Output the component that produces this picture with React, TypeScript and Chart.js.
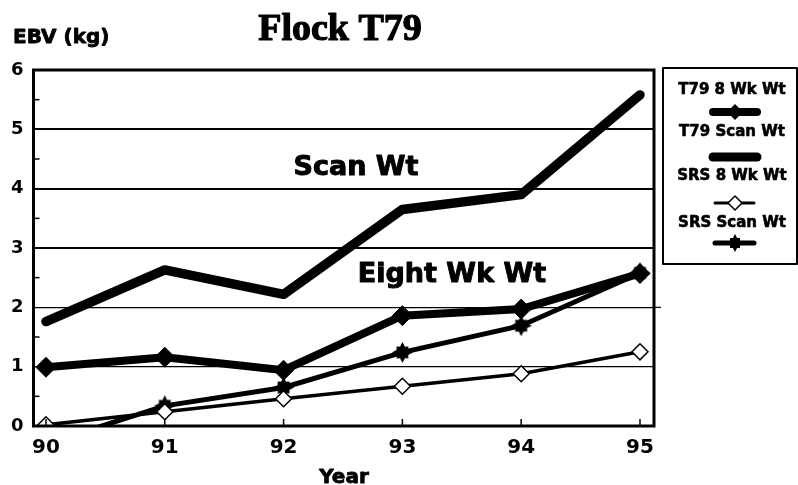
import React, { useEffect, useRef } from "react";
import { Chart, registerables } from "chart.js";

Chart.register(...registerables);

const years = [90, 91, 92, 93, 94, 95];
const t79EightWk = [0.99, 1.16, 0.94, 1.86, 1.97, 2.57];
const t79ScanWt = [1.76, 2.63, 2.22, 3.65, 3.9, 5.58];
const srsEightWk = [0.02, 0.24, 0.46, 0.67, 0.88, 1.25];
const srsScanWt = [-0.3, 0.34, 0.65, 1.24, 1.69, 2.58];
const yTicks = [0, 1, 2, 3, 4, 5, 6];
const yMinorTicks = [0.5, 1.5, 2.5, 3.5, 4.5, 5.5];
const legendLabels = ["T79 8 Wk Wt", "T79 Scan Wt", "SRS 8 Wk Wt", "SRS Scan Wt"];

const SANS = "'DejaVu Sans', sans-serif";

function makeStar(size: number): HTMLCanvasElement {
  const c = document.createElement("canvas");
  c.width = size;
  c.height = size;
  const g = c.getContext("2d")!;
  const cx = size / 2;
  const cy = size / 2;
  g.fillStyle = "#000";
  g.beginPath();
  const pts = 8;
  for (let i = 0; i < pts * 2; i++) {
    const ang = (Math.PI * i) / pts - Math.PI / 2;
    let r: number;
    if (i % 2 === 1) r = size * 0.3;
    else r = (i / 2) % 2 === 0 ? size * 0.5 : size * 0.4;
    const x = cx + Math.cos(ang) * r;
    const y = cy + Math.sin(ang) * r;
    if (i === 0) g.moveTo(x, y);
    else g.lineTo(x, y);
  }
  g.closePath();
  g.fill();
  return c;
}

function boldText(ctx: CanvasRenderingContext2D, t: string, x: number, y: number, w: number) {
  ctx.fillText(t, x, y);
  ctx.lineWidth = w;
  ctx.lineJoin = "round";
  ctx.strokeText(t, x, y);
}

export default function App() {
  const ref = useRef<HTMLCanvasElement>(null);

  useEffect(() => {
    if (!ref.current) return;
    const star = makeStar(21);
    const starSmall = makeStar(18);

    const decor = {
      id: "decor",
      afterDraw(chart: any) {
        const ctx = chart.ctx;
        const a = chart.chartArea;
        const ys = chart.scales.y;
        const xs = chart.scales.x;
        ctx.save();
        ctx.strokeStyle = "#000";
        ctx.fillStyle = "#000";
        // minor inward ticks on y
        ctx.lineWidth = 1.5;
        yMinorTicks.forEach((v) => {
          const py = ys.getPixelForValue(v);
          ctx.beginPath();
          ctx.moveTo(a.left, py);
          ctx.lineTo(a.left + 6, py);
          ctx.stroke();
        });
        // inward x ticks
        years.forEach((v) => {
          const px = xs.getPixelForValue(v);
          ctx.beginPath();
          ctx.moveTo(px, a.bottom);
          ctx.lineTo(px, a.bottom - 7);
          ctx.stroke();
        });
        // gridline 2 overshoot
        ctx.lineWidth = 1.2;
        const p2 = ys.getPixelForValue(2);
        ctx.beginPath();
        ctx.moveTo(a.right, p2);
        ctx.lineTo(a.right + 7, p2);
        ctx.stroke();
        // frame
        ctx.lineWidth = 3;
        ctx.strokeRect(a.left, a.top, a.right - a.left, a.bottom - a.top);

        // title
        ctx.textBaseline = "alphabetic";
        ctx.textAlign = "center";
        ctx.font = "bold 38px 'Liberation Serif', serif";
        boldText(ctx, "Flock T79", 340, 40, 1.2);
        // y axis title
        ctx.textAlign = "left";
        ctx.font = `bold 20px ${SANS}`;
        boldText(ctx, "EBV (kg)", 13, 43, 0.8);
        // x axis title
        ctx.textAlign = "center";
        ctx.font = `bold 20px ${SANS}`;
        boldText(ctx, "Year", 344, 483, 0.8);
        // annotations
        ctx.font = `bold 27px ${SANS}`;
        boldText(ctx, "Scan Wt", 356, 175, 1);
        boldText(ctx, "Eight Wk Wt", 452, 282, 1);

        // legend
        const lx = 663, ly = 68, lw = 134, lh = 196;
        ctx.fillStyle = "#fff";
        ctx.fillRect(lx, ly, lw, lh);
        ctx.fillStyle = "#000";
        ctx.lineWidth = 2;
        ctx.strokeRect(lx, ly, lw, lh);
        ctx.font = `bold 15px ${SANS}`;
        const tb = [94, 136, 180, 227];
        const sy = [112, 157, 203, 243];
        const sx0 = 713, sx1 = 757, scx = 735;
        legendLabels.forEach((t, i) => boldText(ctx, t, 732, tb[i], 0.6));
        ctx.lineCap = "round";
        // 1
        ctx.lineWidth = 8;
        ctx.beginPath(); ctx.moveTo(sx0, sy[0]); ctx.lineTo(sx1, sy[0]); ctx.stroke();
        ctx.beginPath();
        ctx.moveTo(scx - 8, sy[0]); ctx.lineTo(scx, sy[0] - 8); ctx.lineTo(scx + 8, sy[0]); ctx.lineTo(scx, sy[0] + 8);
        ctx.closePath(); ctx.fill();
        // 2
        ctx.lineWidth = 9;
        ctx.beginPath(); ctx.moveTo(sx0, sy[1]); ctx.lineTo(sx1, sy[1]); ctx.stroke();
        // 3
        ctx.lineWidth = 3;
        ctx.beginPath(); ctx.moveTo(sx0 + 2, sy[2]); ctx.lineTo(sx1 - 3, sy[2]); ctx.stroke();
        ctx.fillStyle = "#fff";
        ctx.lineWidth = 1.5;
        ctx.beginPath();
        ctx.moveTo(scx - 7, sy[2]); ctx.lineTo(scx, sy[2] - 7); ctx.lineTo(scx + 7, sy[2]); ctx.lineTo(scx, sy[2] + 7);
        ctx.closePath(); ctx.fill(); ctx.stroke();
        ctx.fillStyle = "#000";
        // 4
        ctx.lineWidth = 5;
        ctx.beginPath(); ctx.moveTo(sx0 + 2, sy[3]); ctx.lineTo(sx1 - 3, sy[3]); ctx.stroke();
        ctx.drawImage(starSmall, scx - 9, sy[3] - 9);
        ctx.restore();
      },
    };

    const mk = (data: number[]) => data.map((v, i) => ({ x: years[i], y: v }));

    const chart = new Chart(ref.current, {
      type: "line",
      data: {
        datasets: [
          {
            label: legendLabels[2],
            data: mk(srsEightWk),
            borderColor: "#000",
            borderWidth: 3.5,
            pointStyle: "rectRot",
            pointRadius: 8,
            pointBackgroundColor: "#fff",
            pointBorderColor: "#000",
            pointBorderWidth: 1.5,
            clip: 0,
            tension: 0,
          },
          {
            label: legendLabels[3],
            data: mk(srsScanWt),
            borderColor: "#000",
            borderWidth: 5,
            pointStyle: star as any,
            pointRadius: 10,
            clip: 0,
            tension: 0,
          },
          {
            label: legendLabels[0],
            data: mk(t79EightWk),
            borderColor: "#000",
            borderWidth: 8,
            pointStyle: "rectRot",
            pointRadius: 10,
            pointBackgroundColor: "#000",
            pointBorderColor: "#000",
            pointBorderWidth: 1,
            clip: 0,
            tension: 0,
          },
          {
            label: legendLabels[1],
            data: mk(t79ScanWt),
            borderColor: "#000",
            borderWidth: 9.5,
            borderCapStyle: "round",
            borderJoinStyle: "round",
            pointRadius: 0,
            clip: 0,
            tension: 0,
          },
        ],
      },
      options: {
        responsive: false,
        animation: false,
        layout: { padding: { left: 0, top: 70, right: 798 - 654, bottom: 0 } },
        plugins: { legend: { display: false }, tooltip: { enabled: false }, title: { display: false } },
        scales: {
          x: {
            type: "linear",
            min: 89.895,
            max: 95.118,
            afterBuildTicks: (s: any) => { s.ticks = years.map((v) => ({ value: v })); },
            afterFit: (s: any) => { s.height = 485 - 426; },
            grid: { display: false, drawTicks: false },
            border: { display: false },
            ticks: {
              color: "#000",
              padding: 10,
              maxRotation: 0,
              autoSkip: false,
              font: { family: SANS, weight: "bold", size: 20 },
              callback: (v: any) => String(v),
            },
          },
          y: {
            type: "linear",
            min: 0,
            max: 6,
            afterBuildTicks: (s: any) => { s.ticks = yTicks.map((v) => ({ value: v })); },
            afterFit: (s: any) => { s.width = 33.5; },
            grid: {
              drawTicks: false,
              color: "#000",
              lineWidth: (c: any) => {
                const v = c.tick ? c.tick.value : 0;
                if (v === 0 || v === 6) return 0;
                return v >= 3 ? 2 : 1.2;
              },
            },
            border: { display: false },
            ticks: {
              color: "#000",
              padding: 10,
              font: { family: SANS, weight: "bold", size: 18 },
              callback: (v: any) => String(v),
            },
          },
        },
      },
      plugins: [decor],
    } as any);
    return () => chart.destroy();
  }, []);

  return (
    <div style={{ position: "absolute", left: 0, top: 0, width: 798, height: 485, background: "#fff" }}>
      <canvas ref={ref} width={798} height={485} style={{ display: "block" }} />
    </div>
  );
}
